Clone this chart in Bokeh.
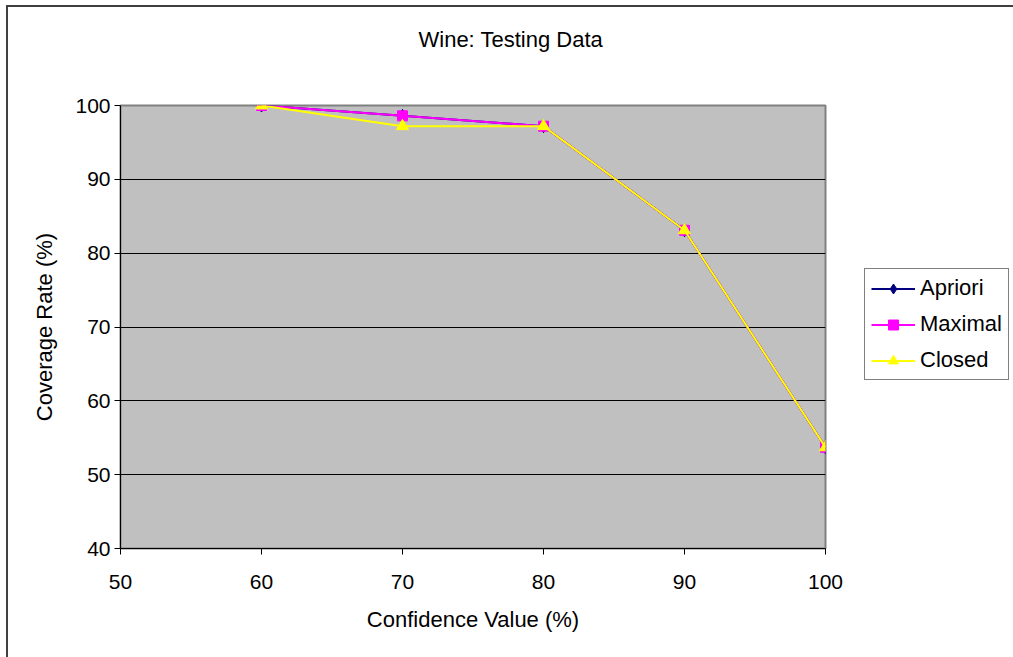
from bokeh.plotting import figure
from bokeh.layouts import row
from bokeh.models import Legend, LegendItem, FixedTicker, Range1d, LinearAxis
from bokeh.embed import file_html
from bokeh.resources import INLINE

confidence = [60, 70, 80, 90, 100]
apriori = [100, 98.6, 97.2, 83.1, 53.7]
maximal = [100, 98.6, 97.2, 83.1, 53.7]
closed = [100, 97.2, 97.2, 83.1, 53.7]
series_names = ["Apriori", "Maximal", "Closed"]
title_text = "Wine: Testing Data"
x_ticks = [50, 60, 70, 80, 90, 100]
y_ticks = [40, 50, 60, 70, 80, 90, 100]

FONT = "Liberation Sans"
COLORS = ["#000080", "#FF00FF", "#FFFF00"]
MARKERS = ["diamond", "square", "triangle"]
SIZES = [13, 10, 12]
SERIES = [apriori, maximal, closed]

p = figure(width=856, height=650, output_backend="svg", toolbar_location=None,
           x_range=Range1d(50, 100), y_range=Range1d(40, 100),
           min_border_left=112, min_border_top=98, min_border_right=39, min_border_bottom=109)

xax = p.below[0]
yax = p.left[0]

p.title.text = title_text
p.title.align = "left"
p.title.offset = 298
p.title.text_font = FONT
p.title.text_font_size = "22px"
p.title.text_font_style = "normal"
p.title.text_color = "black"
p.title.standoff = 10

p.background_fill_color = "#C0C0C0"
p.border_fill_color = "white"
p.outline_line_color = "#808080"
p.outline_line_width = 2

p.xgrid.visible = False
p.ygrid.grid_line_color = "black"
p.ygrid.grid_line_width = 1
p.ygrid.ticker = FixedTicker(ticks=y_ticks)

for ax in (xax, yax):
    ax.axis_line_color = "black"
    ax.major_tick_line_color = "black"
    ax.minor_tick_line_color = None
    ax.major_tick_out = 6
    ax.major_tick_in = 0
    ax.major_label_text_font = FONT
    ax.major_label_text_font_size = "21px"
    ax.major_label_text_color = "black"
    ax.axis_label_text_font = FONT
    ax.axis_label_text_font_size = "22px"
    ax.axis_label_text_font_style = "normal"
    ax.axis_label_text_color = "black"

xax.ticker = FixedTicker(ticks=x_ticks)
yax.ticker = FixedTicker(ticks=y_ticks)
xax.axis_label = "Confidence Value (%)"
yax.axis_label = "Coverage Rate (%)"
xax.major_label_standoff = 20
yax.major_label_standoff = 4
xax.axis_label_standoff = 15
yax.axis_label_standoff = 15

# invisible spacer axis between the frame and the title
spacer = LinearAxis(ticker=FixedTicker(ticks=[75]), major_label_overrides={75: ""},
                    axis_line_color=None, major_tick_line_color=None, minor_tick_line_color=None,
                    major_tick_out=49, major_tick_in=0, minor_tick_out=0, minor_tick_in=0,
                    major_label_standoff=0, major_label_text_color=None)
p.add_layout(spacer, "above")

for ys, c, m, s in zip(SERIES, COLORS, MARKERS, SIZES):
    p.line(confidence, ys, line_color=c, line_width=2)
    p.scatter(confidence, ys, marker=m, size=s, fill_color=c, line_color=c)

# legend panel: same series drawn again in a figure whose ranges hide them,
# only so that the legend can sit outside the plot area
q = figure(width=149, height=650, output_backend="svg", toolbar_location=None,
           x_range=Range1d(0, 1), y_range=Range1d(0, 1),
           x_axis_type=None, y_axis_type=None,
           min_border_left=0, min_border_right=0, min_border_top=0, min_border_bottom=0)
q.outline_line_color = None
q.background_fill_color = "white"
q.border_fill_color = "white"
q.xgrid.visible = False
q.ygrid.visible = False

items = []
for name, ys, c, m, s in zip(series_names, SERIES, COLORS, MARKERS, SIZES):
    rl = q.line(confidence, ys, line_color=c, line_width=2)
    rm = q.scatter(confidence, ys, marker=m, size=s, fill_color=c, line_color=c)
    items.append(LegendItem(label=name, renderers=[rl, rm]))

legend = Legend(items=items, location=(0, 168))
legend.label_text_font = FONT
legend.label_text_font_size = "22px"
legend.label_text_color = "black"
legend.glyph_width = 44
legend.glyph_height = 25
legend.spacing = 10
legend.padding = 6
legend.margin = 0
legend.label_standoff = 5
legend.border_line_color = "black"
legend.border_line_width = 1
legend.background_fill_color = "white"
legend.background_fill_alpha = 1
q.add_layout(legend, "center")

layout = row(p, q, spacing=0)
layout.styles = {"margin-left": "6px", "margin-top": "5px",
                 "border-left": "2px solid #404040", "border-top": "2px solid #404040"}

open("out.html", "w").write(file_html(layout, INLINE))
